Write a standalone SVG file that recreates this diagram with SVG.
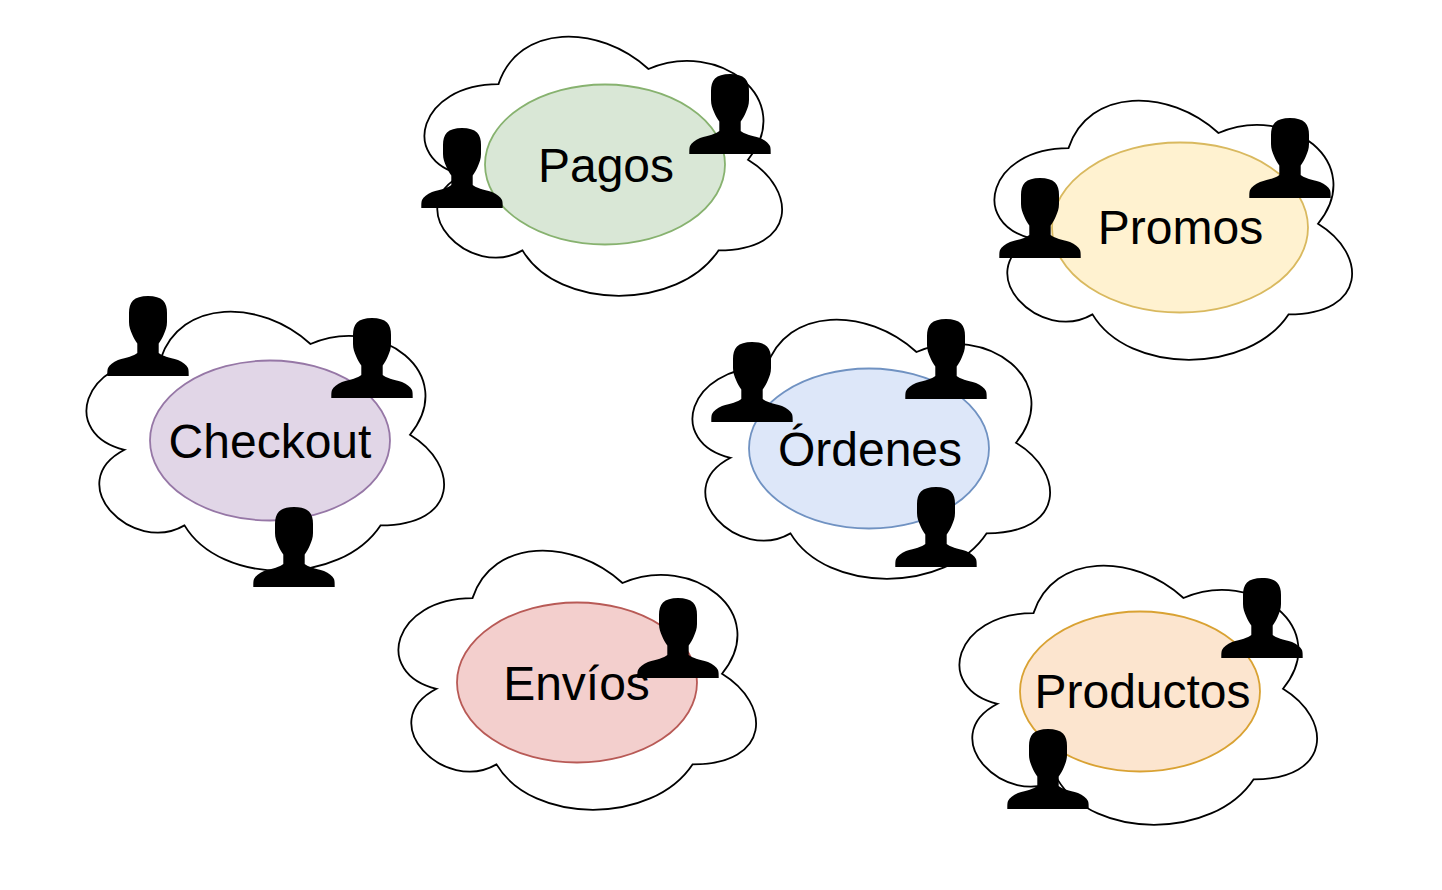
<svg xmlns="http://www.w3.org/2000/svg" width="1442" height="890" viewBox="0 0 1442 890">
<style>
.cloud{fill:#fff;stroke:#000;stroke-width:1.8}
.person{fill:#000}
.e{stroke-width:1.8}
.lbl{font-family:"Liberation Sans",Arial,sans-serif;font-size:48px;fill:#000;text-anchor:middle}
</style>
<defs>
<path id="cloud" class="cloud" d="M100 75.600C20 75.600 0 151.200 64 166.300C0 199.600 72 272.200 124 241.900C160 302.400 280 302.400 320 241.900C399 241.900 399 181.400 349.500 151.200C399 90.700 320 30.200 250 60.500C200 15.100 120 15.100 100 75.600Z"/>
<path id="person" class="person" d="M41 0C48 0 53 1.500 56 4.500C59 7.500 60 12 60 17L60 26C60 31 58.500 34 57 38C55.500 42 53.500 45 51.700 47.500L51.700 57C55 60 62 61.500 71 64C76 66 79.500 69 81 72C81.700 74 81.700 76 81.700 80L0.300 80C0.300 76 0.300 74 1 72C2.500 69 6 66 11 64C20 61.500 27 60 30.300 57L30.300 47.500C28.500 45 26.500 42 25 38C23.500 34 22 31 22 26L22 17C22 12 23 7.500 26 4.500C29 1.500 34 0 41 0Z"/>
</defs>
<rect width="1442" height="890" fill="#fff"/>
<g id="node-pagos">
<use href="#cloud" x="398.500" y="8.500"/>
<ellipse class="e" cx="605" cy="164.500" rx="120" ry="80" fill="#d9e7d6" stroke="#87b26f"/>
<text class="lbl" x="606" y="182">Pagos</text>
<use href="#person" x="689" y="74"/><use href="#person" x="421" y="128"/>
</g>
<g id="node-promos">
<use href="#cloud" x="968.500" y="72.500"/>
<ellipse class="e" cx="1180" cy="227.500" rx="128" ry="85" fill="#fff2d0" stroke="#d9b95f"/>
<text class="lbl" x="1180.500" y="244">Promos</text>
<use href="#person" x="1249" y="118"/><use href="#person" x="999" y="178"/>
</g>
<g id="node-checkout">
<use href="#cloud" x="60.500" y="283.500"/>
<ellipse class="e" cx="270" cy="440.500" rx="120" ry="80" fill="#e1d6e7" stroke="#9677a6"/>
<text class="lbl" x="270" y="458">Checkout</text>
<use href="#person" x="107" y="296"/><use href="#person" x="331" y="318"/><use href="#person" x="253" y="507"/>
</g>
<g id="node-ordenes">
<use href="#cloud" x="666.500" y="291.500"/>
<ellipse class="e" cx="869" cy="448.500" rx="120" ry="80" fill="#dde7f9" stroke="#7092c2"/>
<text class="lbl" x="870" y="466">Órdenes</text>
<use href="#person" x="711" y="342"/><use href="#person" x="905" y="319"/><use href="#person" x="895" y="487"/>
</g>
<g id="node-envios">
<use href="#cloud" x="372.500" y="522.500"/>
<ellipse class="e" cx="577" cy="682.500" rx="120" ry="80" fill="#f3cfcd" stroke="#b85a56"/>
<text class="lbl" x="576.500" y="699.500">Envíos</text>
<use href="#person" x="637" y="598"/>
</g>
<g id="node-productos">
<use href="#cloud" x="933.500" y="537.500"/>
<ellipse class="e" cx="1140" cy="691.500" rx="120" ry="80" fill="#fce5cf" stroke="#d9a233"/>
<text class="lbl" x="1142.500" y="708">Productos</text>
<use href="#person" x="1221" y="578"/><use href="#person" x="1007" y="729"/>
</g>
<g id="connectors"/>
</svg>
